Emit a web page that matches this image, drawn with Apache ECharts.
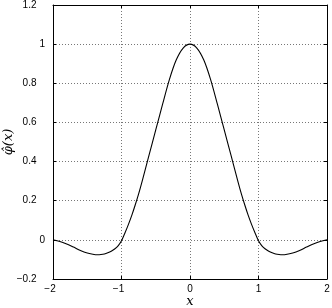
<!DOCTYPE html>
<html><head><meta charset="utf-8">
<script src="https://cdn.jsdelivr.net/npm/echarts@6/dist/echarts.min.js"></script>
<style>html,body{margin:0;padding:0;background:#fff}#c{width:332px;height:308px}</style>
</head><body><div id="c"></div>
<script>
const xValues = [-2.0,-1.9,-1.8,-1.7,-1.6,-1.5,-1.4,-1.35,-1.3,-1.25,-1.2,-1.15,-1.1,-1.05,-1.0,-0.95,-0.9,-0.85,-0.8,-0.75,-0.7,-0.6,-0.5,-0.4,-0.3,-0.2,-0.1,0.0,
                  0.1,0.2,0.3,0.4,0.5,0.6,0.7,0.75,0.8,0.85,0.9,0.95,1.0,1.05,1.1,1.15,1.2,1.25,1.3,1.35,1.4,1.5,1.6,1.7,1.8,1.9,2.0];
const yValues = [0.0,-0.008,-0.021,-0.037,-0.054,-0.067,-0.075,-0.076,-0.075,-0.072,-0.066,-0.058,-0.047,-0.031,-0.005,0.035,0.078,0.125,0.178,0.235,0.298,0.43,0.562,0.693,0.82,0.92,0.98,1.0,
                  0.98,0.92,0.82,0.693,0.562,0.43,0.298,0.235,0.178,0.125,0.078,0.035,-0.005,-0.031,-0.047,-0.058,-0.066,-0.072,-0.075,-0.076,-0.075,-0.067,-0.054,-0.037,-0.021,-0.008,0.0];
const xTickValues = [-2,-1,0,1,2];
const yTickValues = [-0.2,0,0.2,0.4,0.6,0.8,1,1.2];
const xName = 'x';
const yName = 'φ̂(x)';

function fmt(v){
  const r = Math.round(v*10)/10;
  const s = String(Math.abs(r));
  return (r < 0 ? '\u2212' : '') + s;
}
const font = {fontFamily:'Liberation Sans, Arial, sans-serif', fontSize:10, color:'#000'};
const gridLine = {show:true, lineStyle:{color:'#777', type:[1,2], width:1}};
const nameFont = {fontFamily:'DejaVu Serif, Liberation Serif, serif', fontStyle:'italic', fontSize:13, color:'#000'};

const chart = echarts.init(document.getElementById('c'), null, {renderer:'canvas'});
chart.setOption({
  animation:false,
  backgroundColor:'#fff',
  grid:{left:53, right:5, top:5, bottom:29, containLabel:false, outerBoundsMode:'none'},
  xAxis:[{
    type:'value', min:-2, max:2, interval:1, position:'bottom',
    axisLine:{show:true, onZero:false, lineStyle:{color:'#000', width:1}},
    axisTick:{show:true, inside:true, length:3, lineStyle:{color:'#000'}},
    axisLabel:Object.assign({margin:5, formatter:function(v){
      const s = fmt(v);
      return v < 0 ? '{neg|'+s+'}' : '{pos|'+s+'}';
    }, rich:{
      neg:Object.assign({padding:[0,6,0,0]}, font),
      pos:Object.assign({}, font)
    }}, font),
    splitLine:gridLine,
    name:xName, nameLocation:'middle', nameGap:16, nameMoveOverlap:false,
    nameTextStyle:nameFont
  },{
    type:'value', min:-2, max:2, interval:1, position:'top',
    axisLine:{show:true, onZero:false, lineStyle:{color:'#000', width:1}},
    axisTick:{show:true, inside:true, length:3, lineStyle:{color:'#000'}},
    axisLabel:{show:false}, splitLine:{show:false}
  }],
  yAxis:[{
    type:'value', min:-0.2, max:1.2, interval:0.2, position:'left',
    axisLine:{show:true, onZero:false, lineStyle:{color:'#000', width:1}},
    axisTick:{show:true, inside:true, length:3, lineStyle:{color:'#000'}},
    axisLabel:Object.assign({margin:8, formatter:function(v){
      const r = Math.round(v*10)/10;
      const s = fmt(v);
      return Number.isInteger(r) ? '{n|'+s+'}' : '{w|'+s+'}';
    }, rich:{
      n:Object.assign({}, font),
      w:Object.assign({padding:[0,8.5,0,0]}, font)
    }}, font),
    splitLine:gridLine,
    name:yName, nameLocation:'middle', nameGap:38, nameRotate:90, nameMoveOverlap:false,
    nameTextStyle:nameFont
  },{
    type:'value', min:-0.2, max:1.2, interval:0.2, position:'right',
    axisLine:{show:true, onZero:false, lineStyle:{color:'#000', width:1}},
    axisTick:{show:true, inside:true, length:3, lineStyle:{color:'#000'}},
    axisLabel:{show:false}, splitLine:{show:false}
  }],
  series:[{
    type:'line', xAxisIndex:0, yAxisIndex:0,
    data:xValues.map((x,i)=>[x,yValues[i]]),
    showSymbol:false, smooth:0.3,
    lineStyle:{color:'#000', width:1.1}
  }]
});
</script>
</body></html>
